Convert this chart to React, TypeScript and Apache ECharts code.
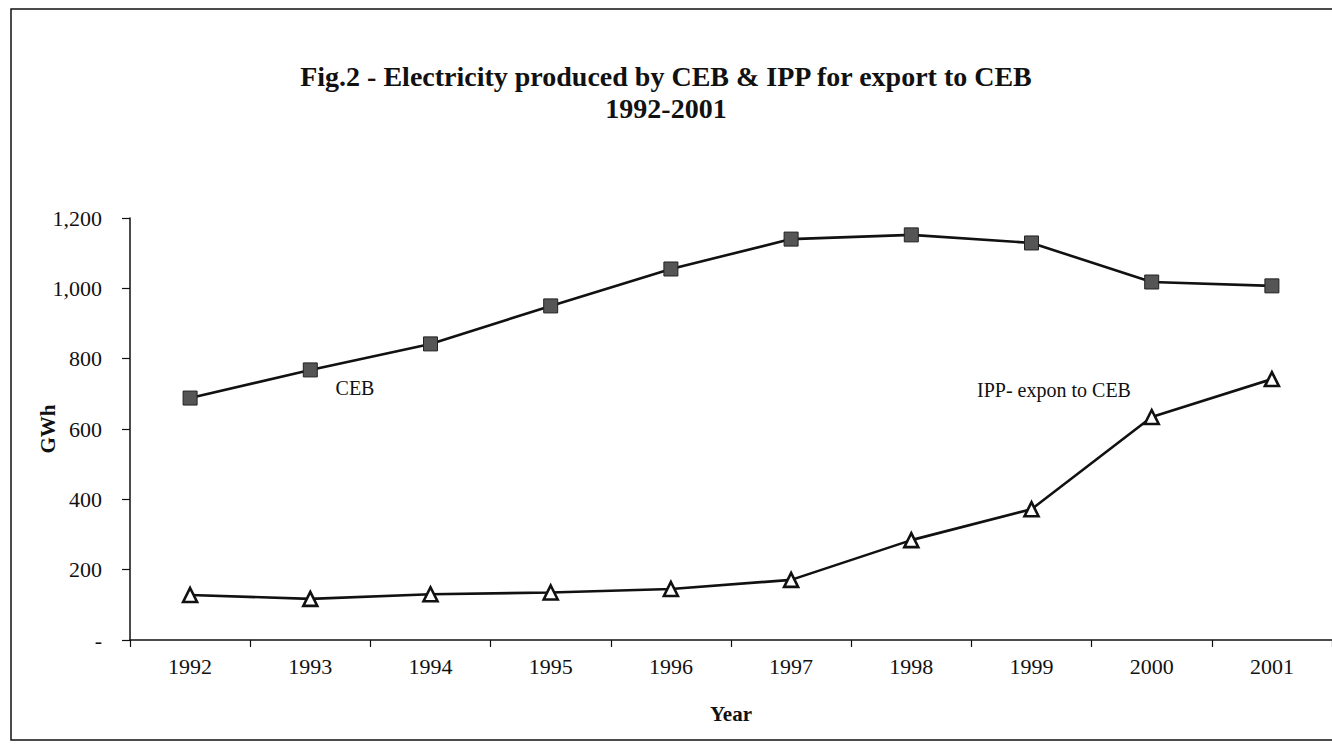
import React, { useEffect, useRef } from "react";
import * as echarts from "echarts";

const years = ["1992", "1993", "1994", "1995", "1996", "1997", "1998", "1999", "2000", "2001"];
const cebValues = [688, 768, 842, 950, 1055, 1140, 1152, 1129, 1018, 1007];
const ippValues = [128, 117, 130, 135, 145, 171, 284, 372, 634, 742];
const yTicks = [0, 200, 400, 600, 800, 1000, 1200];

const titleLine1 = "Fig.2 - Electricity produced by CEB & IPP for export to CEB";
const titleLine2 = "1992-2001";
const cebLabel = "CEB";
const ippLabel = "IPP- expon to CEB";

const SERIF = "'Liberation Serif', 'Times New Roman', serif";

export default function App() {
  const ref = useRef<HTMLDivElement>(null);
  useEffect(() => {
    if (!ref.current) return;
    const chart = echarts.init(ref.current, undefined, { renderer: "svg" });
    chart.setOption({
      animation: false,
      backgroundColor: "#ffffff",
      textStyle: { fontFamily: SERIF, color: "#111" },
      title: {
        text: titleLine1 + "\n" + titleLine2,
        left: "center",
        top: 60,
        padding: 0,
        textStyle: {
          fontFamily: SERIF,
          fontSize: 28,
          fontWeight: "bold",
          color: "#111",
          lineHeight: 32,
        },
      },
      grid: { left: 130, top: 218, width: 1210, height: 422 },
      xAxis: {
        type: "category",
        data: years,
        boundaryGap: true,
        name: "Year",
        nameLocation: "middle",
        nameGap: 63,
        nameTextStyle: { fontFamily: SERIF, fontSize: 21, fontWeight: "bold", color: "#111" },
        axisLine: { show: true, lineStyle: { color: "#111", width: 1.5 } },
        axisTick: { show: true, length: 7, lineStyle: { color: "#111", width: 1.2 } },
        axisLabel: { fontFamily: SERIF, fontSize: 22, color: "#111", margin: 15 },
        splitLine: { show: false },
      },
      yAxis: {
        type: "value",
        min: yTicks[0],
        max: yTicks[yTicks.length - 1],
        interval: 200,
        name: "GWh",
        nameLocation: "middle",
        nameGap: 72,
        nameRotate: 90,
        nameMoveOverlap: false,
        nameTextStyle: { fontFamily: SERIF, fontSize: 21, fontWeight: "bold", color: "#111" },
        axisLine: { show: true, lineStyle: { color: "#111", width: 1.5 } },
        axisTick: { show: true, length: 8, inside: false, lineStyle: { color: "#111", width: 1.2 } },
        axisLabel: {
          fontFamily: SERIF,
          fontSize: 22,
          color: "#111",
          margin: 28,
          formatter: (v: number) => (v === 0 ? "-" : v.toLocaleString("en-US")),
        },
        splitLine: { show: false },
      },
      series: [
        {
          name: cebLabel,
          type: "line",
          data: cebValues,
          symbol: "rect",
          symbolSize: 14,
          lineStyle: { color: "#111", width: 2.6 },
          itemStyle: { color: "#555555", borderColor: "#222", borderWidth: 1 },
          z: 3,
        },
        {
          name: ippLabel,
          type: "line",
          data: ippValues,
          symbol: "triangle",
          symbolSize: 14,
          lineStyle: { color: "#111", width: 2.6 },
          itemStyle: { color: "#ffffff", borderColor: "#111", borderWidth: 2.6 },
          z: 3,
        },
      ],
      graphic: [
        {
          type: "rect",
          shape: { x: 11, y: 9, width: 1340, height: 731 },
          style: { fill: "none", stroke: "#111", lineWidth: 1.5 },
          silent: true,
        },
        {
          type: "text",
          x: 355,
          y: 388,
          style: {
            text: cebLabel,
            font: "20px " + SERIF,
            fill: "#111",
            textAlign: "center",
            textVerticalAlign: "middle",
          },
        },
        {
          type: "text",
          x: 1054,
          y: 390,
          style: {
            text: ippLabel,
            font: "20px " + SERIF,
            fill: "#111",
            textAlign: "center",
            textVerticalAlign: "middle",
          },
        },
      ],
    });
    return () => chart.dispose();
  }, []);
  return (
    <div
      ref={ref}
      style={{ position: "fixed", left: 0, top: 0, width: 1332, height: 755, background: "#fff" }}
    />
  );
}
